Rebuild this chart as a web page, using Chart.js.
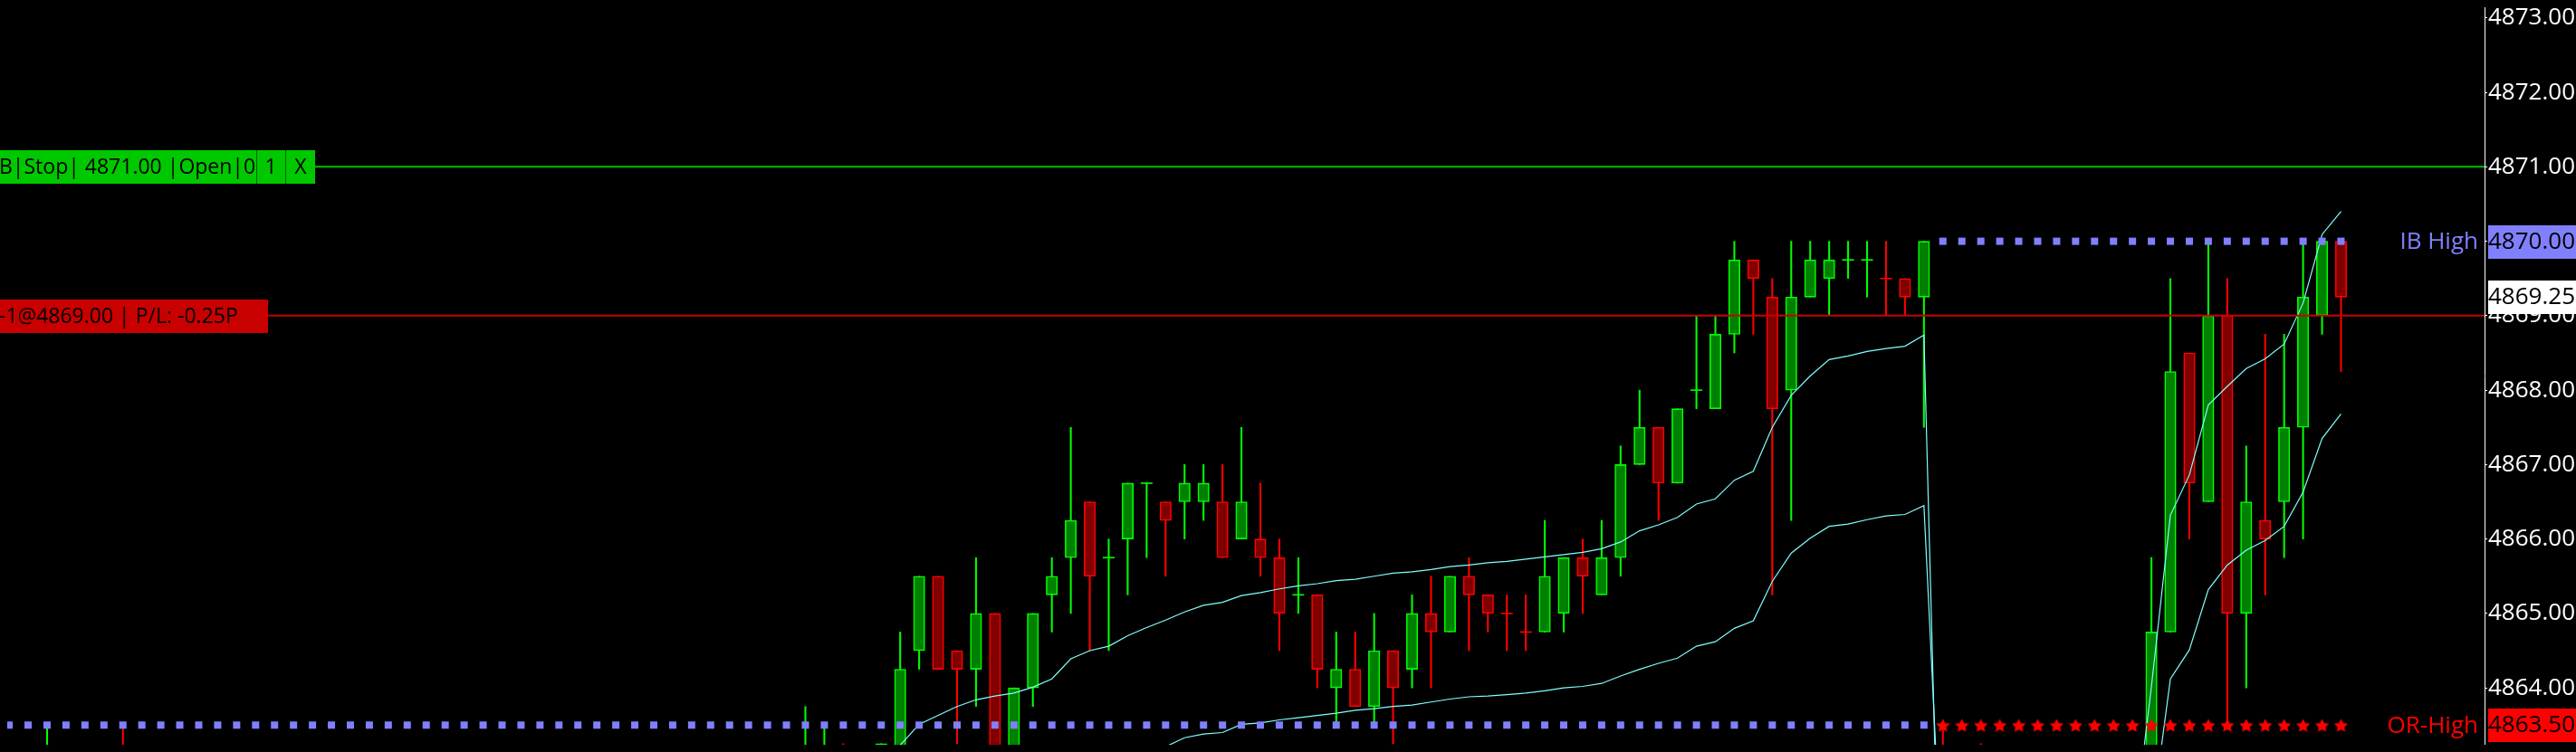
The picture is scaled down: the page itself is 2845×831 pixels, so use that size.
<!DOCTYPE html>
<html>
<head>
<meta charset="utf-8">
<script src="https://cdn.jsdelivr.net/npm/chart.js@4.4.1/dist/chart.umd.min.js"></script>
<style>
  html, body { margin: 0; padding: 0; background: #000; overflow: hidden; }
  #wrap { width: 2845px; height: 831px; position: relative; }
</style>
</head>
<body>
<div id="wrap"><canvas id="chart"></canvas></div>
<script>
// bar numbers of the candles that show on screen (others are below the visible range)
const bars   = [2, 6, 42, 43, 44, 46, 47, 48, 49, 50, 51, 52, 53, 54, 55, 56, 57, 58, 59, 60,
                61, 62, 63, 64, 65, 66, 67, 68, 69, 70, 71, 72, 73, 74, 75, 76, 77, 78, 79, 80,
                81, 82, 83, 84, 85, 86, 87, 88, 89, 90, 91, 92, 93, 94, 95, 96, 97, 98, 99, 100,
                101, 102, 104, 113, 114, 115, 116, 117, 118, 119, 120, 121, 122, 123];
const opens  = [4862.75, 4863, 4862.75, 4862.75, 4863, 4862.75, 4863, 4864.5, 4865.5, 4864.5, 4864.25, 4865, 4863, 4864, 4865.25, 4865.75, 4866.5, 4865.75, 4866, 4866.75,
                4866.5, 4866.5, 4866.5, 4866.5, 4866, 4866, 4865.75, 4865.25, 4865.25, 4864, 4864.25, 4863.75, 4864.5, 4864.25, 4865, 4864.75, 4865.5, 4865.25, 4865, 4864.75,
                4864.75, 4865, 4865.75, 4865.25, 4865.75, 4867, 4867.5, 4866.75, 4868, 4867.75, 4868.75, 4869.75, 4869.25, 4868, 4869.25, 4869.5, 4869.75, 4869.75, 4869.5, 4869.5,
                4869.25, 4863, 4862.75, 4862.75, 4864.75, 4868.5, 4866.5, 4869, 4865, 4866.25, 4866.5, 4867.5, 4869, 4870];
const highs  = [4863.5, 4863.5, 4863.75, 4863.5, 4863.25, 4863.25, 4864.75, 4865.5, 4865.5, 4864.5, 4865.75, 4865, 4864, 4865, 4865.75, 4867.5, 4866.5, 4866, 4866.75, 4866.75,
                4866.5, 4867, 4867, 4867, 4867.5, 4866.75, 4866, 4865.75, 4865.25, 4864.75, 4864.75, 4865, 4864.5, 4865.25, 4865.5, 4865.5, 4865.75, 4865.25, 4865.25, 4865.25,
                4866.25, 4865.75, 4866, 4866.25, 4867.25, 4868, 4867.5, 4867.75, 4869, 4869, 4870, 4869.75, 4869.5, 4870, 4870, 4870, 4870, 4870, 4870, 4869.5,
                4870, 4863.5, 4863.25, 4865.75, 4869.5, 4868.5, 4870, 4869.5, 4867.25, 4868.75, 4868.75, 4870, 4870, 4870];
const lows   = [4862.5, 4862.5, 4862.5, 4862.5, 4862.5, 4862.5, 4862.75, 4864.25, 4864.25, 4863.25, 4863.75, 4862.75, 4862.75, 4863.75, 4864.75, 4865, 4864.5, 4864.5, 4865.25, 4865.75,
                4865.5, 4866, 4866.25, 4865.75, 4866, 4865.5, 4864.5, 4865, 4864, 4863.5, 4863.75, 4863.5, 4863.25, 4864, 4864, 4864.75, 4864.5, 4864.75, 4864.5, 4864.5,
                4864.75, 4864.75, 4865, 4865.25, 4865.5, 4867, 4866.25, 4866.75, 4867.75, 4867.75, 4868.5, 4868.75, 4865.25, 4866.25, 4869.25, 4869, 4869.5, 4869.25, 4869, 4869,
                4867.5, 4862.25, 4862.25, 4862.5, 4864.75, 4866, 4866.5, 4863.5, 4864, 4865.25, 4865.75, 4866, 4868.75, 4868.25];
const closes = [4863, 4862.75, 4863, 4863, 4862.75, 4863.25, 4864.25, 4865.5, 4864.25, 4864.25, 4865, 4863, 4864, 4865, 4865.5, 4866.25, 4865.5, 4865.75, 4866.75, 4866.75,
                4866.25, 4866.75, 4866.75, 4865.75, 4866.5, 4865.75, 4865, 4865.25, 4864.25, 4864.25, 4863.75, 4864.5, 4864, 4865, 4864.75, 4865.5, 4865.25, 4865, 4865, 4864.75,
                4865.5, 4865.75, 4865.5, 4865.75, 4867, 4867.5, 4866.75, 4867.75, 4868, 4868.75, 4869.75, 4869.5, 4867.75, 4869.25, 4869.75, 4869.75, 4869.75, 4869.75, 4869.5, 4869.25,
                4870, 4862.5, 4862.5, 4864.75, 4868.25, 4866.75, 4869, 4865, 4866.5, 4866, 4867.5, 4869.25, 4870, 4869.25];
// dojis (open == close) that print as down bars
const dojiRed = [79, 80, 99];

// session band lines (cyan)
const upperBars = [46, 47, 48, 49, 50, 51, 52, 53, 54, 55, 56, 57, 58, 59, 60, 61, 62, 63, 64, 65,
                   66, 67, 68, 69, 70, 71, 72, 73, 74, 75, 76, 77, 78, 79, 80, 81, 82, 83, 84, 85,
                   86, 87, 88, 89, 90, 91, 92, 93, 94, 95, 96, 97, 98, 99, 100, 101, 102,
                   112, 113, 114, 115, 116, 117, 118, 119, 120, 121, 122, 123];
const upperVals = [4862.95, 4863.23, 4863.51, 4863.63, 4863.75, 4863.84, 4863.89, 4863.93, 4864.01, 4864.12, 4864.39, 4864.50, 4864.56, 4864.70, 4864.81, 4864.91, 4865.02, 4865.11, 4865.15, 4865.24,
                   4865.28, 4865.33, 4865.37, 4865.40, 4865.44, 4865.46, 4865.50, 4865.54, 4865.56, 4865.59, 4865.63, 4865.65, 4865.68, 4865.70, 4865.73, 4865.76, 4865.79, 4865.82, 4865.87, 4865.96,
                   4866.11, 4866.19, 4866.29, 4866.47, 4866.54, 4866.79, 4866.91, 4867.50, 4867.93, 4868.19, 4868.41, 4868.46, 4868.52, 4868.56, 4868.59, 4868.74, 4859.10,
                   4861.90, 4864.02, 4866.32, 4866.86, 4867.80, 4868.05, 4868.29, 4868.42, 4868.62, 4869.17, 4870.09, 4870.40];
const lowerBars = [60, 61, 62, 63, 64, 65, 66, 67, 68, 69, 70, 71, 72, 73, 74, 75, 76, 77, 78, 79,
                   80, 81, 82, 83, 84, 85, 86, 87, 88, 89, 90, 91, 92, 93, 94, 95, 96, 97, 98, 99,
                   100, 101, 102, 112, 113, 114, 115, 116, 117, 118, 119, 120, 121, 122, 123];
const lowerVals = [4863.05, 4863.21, 4863.33, 4863.38, 4863.40, 4863.51, 4863.53, 4863.57, 4863.60, 4863.63, 4863.66, 4863.70, 4863.72, 4863.75, 4863.77, 4863.81, 4863.85, 4863.88, 4863.89, 4863.91,
                   4863.93, 4863.96, 4864.00, 4864.02, 4864.06, 4864.16, 4864.25, 4864.33, 4864.40, 4864.56, 4864.62, 4864.80, 4864.90, 4865.43, 4865.81, 4866.01, 4866.17, 4866.20, 4866.26, 4866.31,
                   4866.33, 4866.45, 4861.20, 4860.50, 4862.20, 4864.12, 4864.51, 4865.32, 4865.65, 4865.85, 4865.98, 4866.17, 4866.63, 4867.35, 4867.68];

const priceTicks = [4864, 4865, 4866, 4867, 4868, 4869, 4870, 4871, 4872, 4873];

// levels
const stopPrice = 4871.00;
const entryPrice = 4869.00;
const lastPrice = 4869.25;
const ibHighPrev = 4863.50;   // blue dots, previous session
const ibHigh = 4870.00;       // blue dots, current session
const orHigh = 4863.50;       // red stars, current session
const prevSessionBars = [0, 101];
const sessionBars = [102, 123];

const xMin = -0.0952, xMax = 130.571;
const yMin = 4863.237, yMax = 4873.143;

const GREEN = '#00ff00', GREEN_FILL = '#008000';
const RED = '#ff0000', RED_FILL = '#800000';
const CYAN = '#80ffff';
const FONT = '"Open Sans", "Noto Sans", sans-serif';

const isUp = (k) => closes[k] > opens[k] || (closes[k] === opens[k] && !dojiRed.includes(bars[k]));

const wicks = [], bodies = [], dojis = [];
const wickColors = [], bodyColors = [], bodyFills = [], dojiColors = [];
bars.forEach((b, k) => {
  const up = isUp(k);
  wicks.push({ x: b, y: [lows[k], highs[k]] });
  wickColors.push(up ? GREEN : RED);
  if (opens[k] === closes[k]) {
    dojis.push({ x: b, y: opens[k] });
    dojiColors.push(up ? GREEN : RED);
  } else {
    bodies.push({ x: b, y: [opens[k], closes[k]] });
    bodyColors.push(up ? GREEN : RED);
    bodyFills.push(up ? GREEN_FILL : RED_FILL);
  }
});

const levelDots = (from, to, price) => {
  const pts = [];
  for (let b = from; b <= to; b++) pts.push({ x: b, y: price });
  return pts;
};

function starImage(size, color) {
  const c = document.createElement('canvas');
  c.width = size; c.height = size;
  const g = c.getContext('2d');
  const cx = size / 2, cy = size / 2 + 0.9, R = size / 2, r = R * 0.5;
  g.beginPath();
  for (let k = 0; k < 10; k++) {
    const a = -Math.PI / 2 + k * Math.PI / 5;
    const rad = k % 2 ? r : R;
    g.lineTo(cx + rad * Math.cos(a), cy + rad * Math.sin(a));
  }
  g.closePath();
  g.fillStyle = color;
  g.fill();
  return c;
}

const overlay = {
  id: 'overlay',
  afterDraw(chart) {
    const { ctx, chartArea, scales: { y } } = chart;
    const axisX = chartArea.right;
    ctx.save();
    ctx.textBaseline = 'middle';

    // order labels on the left
    const ys = Math.round(y.getPixelForValue(stopPrice));
    ctx.fillStyle = '#00c800';
    ctx.fillRect(0, ys - 18, 348, 37);
    ctx.fillStyle = '#000';
    ctx.font = '23px ' + FONT;
    ctx.textAlign = 'left';
    ctx.fillText('B|Stop| ' + stopPrice.toFixed(2) + ' |Open|0', -1, ys + 1);
    ctx.textAlign = 'center';
    ctx.fillText('1', 299, ys + 1);
    ctx.fillText('X', 332, ys + 1);
    ctx.strokeStyle = '#006000';
    ctx.lineWidth = 1;
    ctx.beginPath();
    ctx.moveTo(283.5, ys - 18); ctx.lineTo(283.5, ys + 19);
    ctx.moveTo(315.5, ys - 18); ctx.lineTo(315.5, ys + 19);
    ctx.stroke();

    const ye = Math.round(y.getPixelForValue(entryPrice));
    ctx.fillStyle = '#c80000';
    ctx.fillRect(0, ye - 18, 296, 37);
    ctx.fillStyle = '#000';
    ctx.textAlign = 'left';
    ctx.fillText('-1@' + entryPrice.toFixed(2) + ' | P/L: -0.25P', -1, ye + 1);

    // price boxes on the axis
    ctx.font = '26px ' + FONT;
    const box = (price, bg) => {
      const yp = Math.round(y.getPixelForValue(price));
      ctx.fillStyle = bg;
      ctx.fillRect(axisX + 4, yp - 18, 200, 37);
      ctx.fillStyle = '#000';
      ctx.textAlign = 'left';
      ctx.fillText(price.toFixed(2), axisX + 4, yp + 1);
    };
    box(ibHigh, '#8080ff');
    box(lastPrice, '#ffffff');
    box(orHigh, '#ff0000');

    ctx.textAlign = 'right';
    ctx.fillStyle = '#8080ff';
    ctx.fillText('IB High', axisX - 7, y.getPixelForValue(ibHigh) + 1);
    ctx.fillStyle = '#ff0000';
    ctx.fillText('OR-High', axisX - 7, y.getPixelForValue(orHigh) + 1);
    ctx.restore();
  }
};

new Chart(document.getElementById('chart'), {
  type: 'bar',
  data: {
    datasets: [
      {
        type: 'bar', data: wicks, grouped: false, order: 6,
        backgroundColor: wickColors, borderWidth: 0, barThickness: 1.4
      },
      {
        type: 'bar', data: bodies, grouped: false, order: 5,
        backgroundColor: bodyFills, borderColor: bodyColors,
        borderWidth: 1.6, borderSkipped: false, barThickness: 12.5
      },
      {
        type: 'line', data: dojis, showLine: false, order: 5,
        pointStyle: 'line', pointRadius: 6.5, pointBorderWidth: 1.6,
        pointBorderColor: dojiColors
      },
      {
        type: 'line', data: upperBars.map((b, k) => ({ x: b, y: upperVals[k] })), order: 4,
        borderColor: CYAN, borderWidth: 1.2, pointRadius: 0, tension: 0
      },
      {
        type: 'line', data: lowerBars.map((b, k) => ({ x: b, y: lowerVals[k] })), order: 4,
        borderColor: CYAN, borderWidth: 1.2, pointRadius: 0, tension: 0
      },
      {
        type: 'line', data: [{ x: xMin, y: stopPrice }, { x: xMax, y: stopPrice }], order: 3,
        borderColor: '#00c000', borderWidth: 2, pointRadius: 0
      },
      {
        type: 'line', data: [{ x: xMin, y: entryPrice }, { x: xMax, y: entryPrice }], order: 3,
        borderColor: '#c80000', borderWidth: 2, pointRadius: 0
      },
      {
        type: 'line', data: levelDots(prevSessionBars[0], prevSessionBars[1], ibHighPrev), showLine: false, order: 2,
        pointStyle: 'rect', pointRadius: 5.66, pointBorderWidth: 0, pointBackgroundColor: '#8080ff'
      },
      {
        type: 'line', data: levelDots(sessionBars[0], sessionBars[1], ibHigh), showLine: false, order: 2,
        pointStyle: 'rect', pointRadius: 5.66, pointBorderWidth: 0, pointBackgroundColor: '#8080ff'
      },
      {
        type: 'line', data: levelDots(sessionBars[0], sessionBars[1], orHigh), showLine: false, order: 2,
        pointStyle: starImage(16, '#ff0000')
      }
    ]
  },
  options: {
    responsive: true,
    maintainAspectRatio: false,
    animation: false,
    layout: { padding: 0 },
    plugins: { legend: { display: false }, tooltip: { enabled: false } },
    scales: {
      x: {
        type: 'linear', display: false, offset: false,
        min: xMin, max: xMax
      },
      y: {
        type: 'linear', position: 'right', beginAtZero: false,
        min: yMin, max: yMax,
        afterBuildTicks: (scale) => { scale.ticks = priceTicks.map(v => ({ value: v })); },
        afterFit: (scale) => { scale.width = 101; scale.paddingTop = 0; scale.paddingBottom = 0; },
        grid: { drawOnChartArea: false, drawTicks: true, tickLength: 3, tickColor: '#ffffff' },
        border: { display: true, color: '#ffffff', width: 1 },
        ticks: {
          color: '#ffffff', padding: 1, autoSkip: false,
          font: { family: FONT, size: 26 },
          callback: (v) => Number(v).toFixed(2)
        }
      }
    }
  },
  plugins: [overlay]
});
</script>
</body>
</html>
